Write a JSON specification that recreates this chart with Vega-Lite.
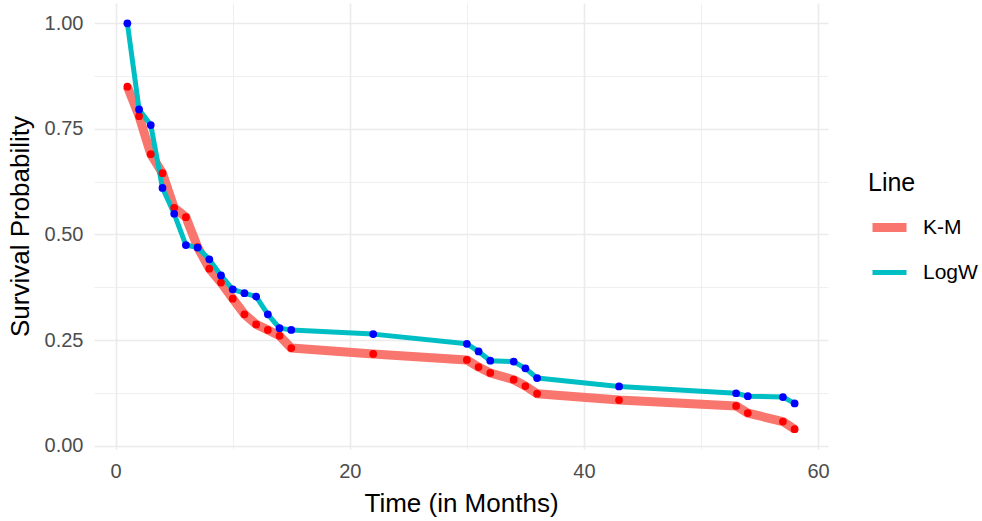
{
  "$schema": "https://vega.github.io/schema/vega-lite/v6.json",
  "autosize": {"type": "none"},
  "padding": {"left": 94, "top": 3, "right": 154, "bottom": 72},
  "width": 734,
  "height": 446,
  "background": "white",
  "config": {
    "view": {"stroke": null},
    "font": "Liberation Sans",
    "axis": {
      "domain": false,
      "ticks": false,
      "gridColor": "#EBEBEB",
      "labelColor": "#4D4D4D",
      "labelFontSize": 20,
      "titleFontSize": 26,
      "titleFontWeight": "normal",
      "titleColor": "#000000"
    },
    "legend": {
      "titleFontSize": 25,
      "titleFontWeight": "normal",
      "labelFontSize": 21,
      "labelColor": "#000000"
    }
  },
  "data": {
    "values": [
      {"t": 1, "surv": 0.85, "series": "K-M"},
      {"t": 2, "surv": 0.78, "series": "K-M"},
      {"t": 3, "surv": 0.69, "series": "K-M"},
      {"t": 4, "surv": 0.645, "series": "K-M"},
      {"t": 5, "surv": 0.563, "series": "K-M"},
      {"t": 6, "surv": 0.541, "series": "K-M"},
      {"t": 7, "surv": 0.47, "series": "K-M"},
      {"t": 8, "surv": 0.419, "series": "K-M"},
      {"t": 9, "surv": 0.386, "series": "K-M"},
      {"t": 10, "surv": 0.348, "series": "K-M"},
      {"t": 11, "surv": 0.311, "series": "K-M"},
      {"t": 12, "surv": 0.287, "series": "K-M"},
      {"t": 13, "surv": 0.274, "series": "K-M"},
      {"t": 14, "surv": 0.26, "series": "K-M"},
      {"t": 15, "surv": 0.231, "series": "K-M"},
      {"t": 22, "surv": 0.217, "series": "K-M"},
      {"t": 30, "surv": 0.203, "series": "K-M"},
      {"t": 31, "surv": 0.186, "series": "K-M"},
      {"t": 32, "surv": 0.172, "series": "K-M"},
      {"t": 34, "surv": 0.156, "series": "K-M"},
      {"t": 35, "surv": 0.141, "series": "K-M"},
      {"t": 36, "surv": 0.123, "series": "K-M"},
      {"t": 43, "surv": 0.108, "series": "K-M"},
      {"t": 53, "surv": 0.094, "series": "K-M"},
      {"t": 54, "surv": 0.077, "series": "K-M"},
      {"t": 57, "surv": 0.057, "series": "K-M"},
      {"t": 58, "surv": 0.039, "series": "K-M"},
      {"t": 1, "surv": 1.0, "series": "LogW"},
      {"t": 2, "surv": 0.796, "series": "LogW"},
      {"t": 3, "surv": 0.759, "series": "LogW"},
      {"t": 4, "surv": 0.61, "series": "LogW"},
      {"t": 5, "surv": 0.549, "series": "LogW"},
      {"t": 6, "surv": 0.475, "series": "LogW"},
      {"t": 7, "surv": 0.469, "series": "LogW"},
      {"t": 8, "surv": 0.441, "series": "LogW"},
      {"t": 9, "surv": 0.403, "series": "LogW"},
      {"t": 10, "surv": 0.37, "series": "LogW"},
      {"t": 11, "surv": 0.361, "series": "LogW"},
      {"t": 12, "surv": 0.353, "series": "LogW"},
      {"t": 13, "surv": 0.311, "series": "LogW"},
      {"t": 14, "surv": 0.278, "series": "LogW"},
      {"t": 15, "surv": 0.274, "series": "LogW"},
      {"t": 22, "surv": 0.264, "series": "LogW"},
      {"t": 30, "surv": 0.241, "series": "LogW"},
      {"t": 31, "surv": 0.223, "series": "LogW"},
      {"t": 32, "surv": 0.201, "series": "LogW"},
      {"t": 34, "surv": 0.199, "series": "LogW"},
      {"t": 35, "surv": 0.183, "series": "LogW"},
      {"t": 36, "surv": 0.16, "series": "LogW"},
      {"t": 43, "surv": 0.14, "series": "LogW"},
      {"t": 53, "surv": 0.124, "series": "LogW"},
      {"t": 54, "surv": 0.117, "series": "LogW"},
      {"t": 57, "surv": 0.115, "series": "LogW"},
      {"t": 58, "surv": 0.1, "series": "LogW"}
    ]
  },
  "encoding": {
    "x": {
      "field": "t",
      "type": "quantitative",
      "scale": {"domain": [-1.85, 60.85], "nice": false, "zero": false},
      "axis": {
        "title": "Time (in Months)",
        "values": [0, 10, 20, 30, 40, 50, 60],
        "labelExpr": "datum.value % 20 === 0 ? datum.label : ''",
        "gridWidth": {"condition": {"test": "datum.value % 20 !== 0", "value": 0.8}, "value": 1.6},
        "labelPadding": 12,
        "titlePadding": 9
      }
    },
    "y": {
      "field": "surv",
      "type": "quantitative",
      "scale": {"domain": [-0.008, 1.048], "nice": false, "zero": false},
      "axis": {
        "title": "Survival Probability",
        "values": [0, 0.125, 0.25, 0.375, 0.5, 0.625, 0.75, 0.875, 1.0],
        "labelExpr": "datum.value % 0.25 === 0 ? format(datum.value, '.2f') : ''",
        "gridWidth": {"condition": {"test": "datum.value % 0.25 !== 0", "value": 0.8}, "value": 1.6},
        "labelPadding": 11,
        "titlePadding": 11
      }
    }
  },
  "layer": [
    {
      "mark": {"type": "line", "strokeCap": "butt", "strokeJoin": "round"},
      "encoding": {
        "color": {
          "field": "series",
          "type": "nominal",
          "scale": {"domain": ["K-M", "LogW"], "range": ["#F8766D", "#00BFC4"]},
          "legend": {
            "title": "Line",
            "orient": "none",
            "legendX": 774,
            "legendY": 168,
            "symbolType": "stroke",
            "symbolSize": 1156,
            "symbolStrokeWidth": 9,
            "labelOffset": 12,
            "rowPadding": 7,
            "titlePadding": 10
          }
        },
        "strokeWidth": {
          "field": "series",
          "type": "nominal",
          "scale": {"domain": ["K-M", "LogW"], "range": [9, 5]},
          "legend": null
        }
      }
    },
    {
      "mark": {"type": "point", "filled": true, "opacity": 1, "size": 60},
      "encoding": {
        "fill": {
          "field": "series",
          "type": "nominal",
          "scale": {"domain": ["K-M", "LogW"], "range": ["#FF0000", "#0000FF"]},
          "legend": null
        }
      }
    }
  ]
}
